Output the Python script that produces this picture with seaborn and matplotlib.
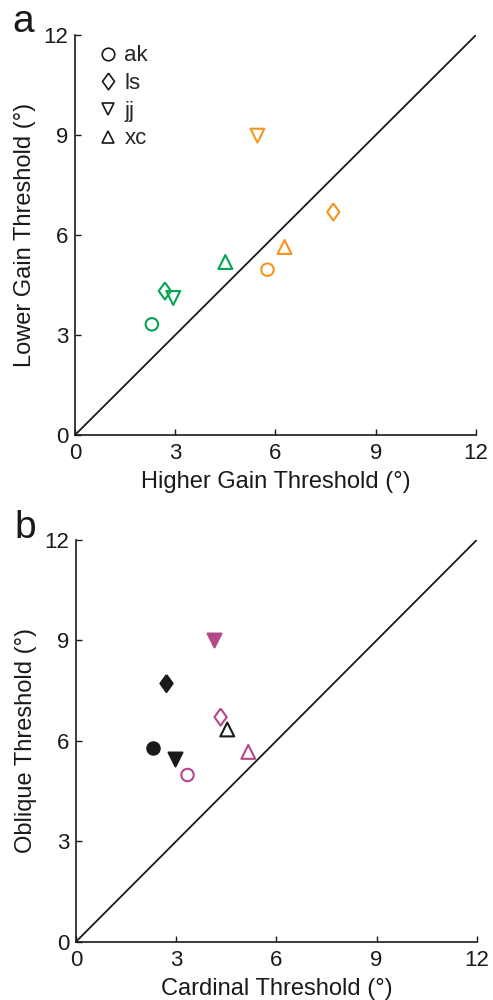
import numpy as np
import pandas as pd
import matplotlib
matplotlib.use("Agg")
import matplotlib.pyplot as plt
import seaborn as sns
from matplotlib.lines import Line2D

sns.set_theme(style="white")
plt.rcParams['font.family'] = ['Liberation Sans', 'DejaVu Sans']

subjects = ["ak", "ls", "jj", "xc"]
DIAMOND = [(0, 1), (0.72, 0), (0, -1), (-0.72, 0), (0, 1)]
markers = {"ak": "o", "ls": DIAMOND, "jj": "v", "xc": "^"}

# Panel a
a_green_x = [2.30, 2.69, 2.94, 4.50]
a_green_y = [3.32, 4.32, 4.11, 5.19]
a_orange_x = [5.76, 7.73, 5.46, 6.27]
a_orange_y = [4.96, 6.69, 8.98, 5.64]

# Panel b
b_black_x = [2.30, 2.71, 2.96, 4.53]
b_black_y = [5.79, 7.74, 5.46, 6.34]
b_black_filled = [True, True, True, False]
b_mag_x = [3.34, 4.33, 4.13, 5.16]
b_mag_y = [4.98, 6.71, 9.01, 5.67]
b_mag_filled = [False, False, True, False]

ticks = [0, 3, 6, 9, 12]

GREEN = "#00a651"
ORANGE = "#f7941d"
MAGENTA = "#b5478b"
BLACK = "#1a1a1a"

fig = plt.figure(figsize=(4.93, 10), dpi=100)
axA = fig.add_axes([75/493, 1-435/1000, 401/493, 0.400])
axB = fig.add_axes([76/493, 1-941.7/1000, 400.7/493, 0.4017])


def draw(ax, xs, ys, color, filled):
    for s, x, y, f in zip(subjects, xs, ys, filled):
        df = pd.DataFrame({"x": [x], "y": [y]})
        m = markers[s]
        sns.scatterplot(data=df, x="x", y="y", ax=ax, marker=m,
                        s=80 if s == "ak" else (150 if s == "ls" else 100),
                        facecolor=color if f else "none",
                        edgecolor=color, linewidth=1.5, legend=False,
                        zorder=3)


def style(ax, xlabel, ylabel):
    ax.plot([0, 12], [0, 12], color=BLACK, lw=1.3, zorder=2)
    ax.set_xlim(0, 12)
    ax.set_ylim(0, 12)
    ax.set_xticks(ticks)
    ax.set_yticks(ticks)
    ax.set_xticklabels([str(t) for t in ticks])
    ax.set_yticklabels([str(t) for t in ticks])
    for sp in ["top", "right"]:
        ax.spines[sp].set_visible(False)
    for sp in ["left", "bottom"]:
        ax.spines[sp].set_color(BLACK)
        ax.spines[sp].set_linewidth(1.2)
    ax.tick_params(axis="both", direction="in", length=4, width=1.0,
                   color=BLACK, labelsize=16, labelcolor=BLACK,
                   left=True, bottom=True)
    ax.tick_params(axis="x", pad=6)
    ax.tick_params(axis="y", pad=5)
    ax.set_xlabel(xlabel, fontsize=17, color=BLACK, labelpad=5)
    ax.set_ylabel(ylabel, fontsize=17, color=BLACK, labelpad=5)
    ax.set_facecolor("white")


draw(axA, a_green_x, a_green_y, GREEN, [False]*4)
draw(axA, a_orange_x, a_orange_y, ORANGE, [False]*4)
style(axA, "Higher Gain Threshold (°)", "Lower Gain Threshold (°)")

handles = [Line2D([], [], linestyle="none", marker=markers[s],
                  markersize=12 if s == "ls" else 9,
                  markerfacecolor="none", markeredgecolor=BLACK,
                  markeredgewidth=1.2, label=s) for s in subjects]
axA.legend(handles=handles, loc="upper left", frameon=False, fontsize=16,
           handletextpad=0.25, labelspacing=0.3, borderaxespad=0.3,
           bbox_to_anchor=(0.015, 1.013), handlelength=1.0)

draw(axB, b_black_x, b_black_y, BLACK, b_black_filled)
draw(axB, b_mag_x, b_mag_y, MAGENTA, b_mag_filled)
style(axB, "Cardinal Threshold (°)", "Oblique Threshold (°)")

fig.text(12/493, 1-32/1000, "a", fontsize=28, color=BLACK, va="baseline")
fig.text(14/493, 1-538/1000, "b", fontsize=28, color=BLACK, va="baseline")

fig.savefig("out.png", dpi=100, facecolor="white")
